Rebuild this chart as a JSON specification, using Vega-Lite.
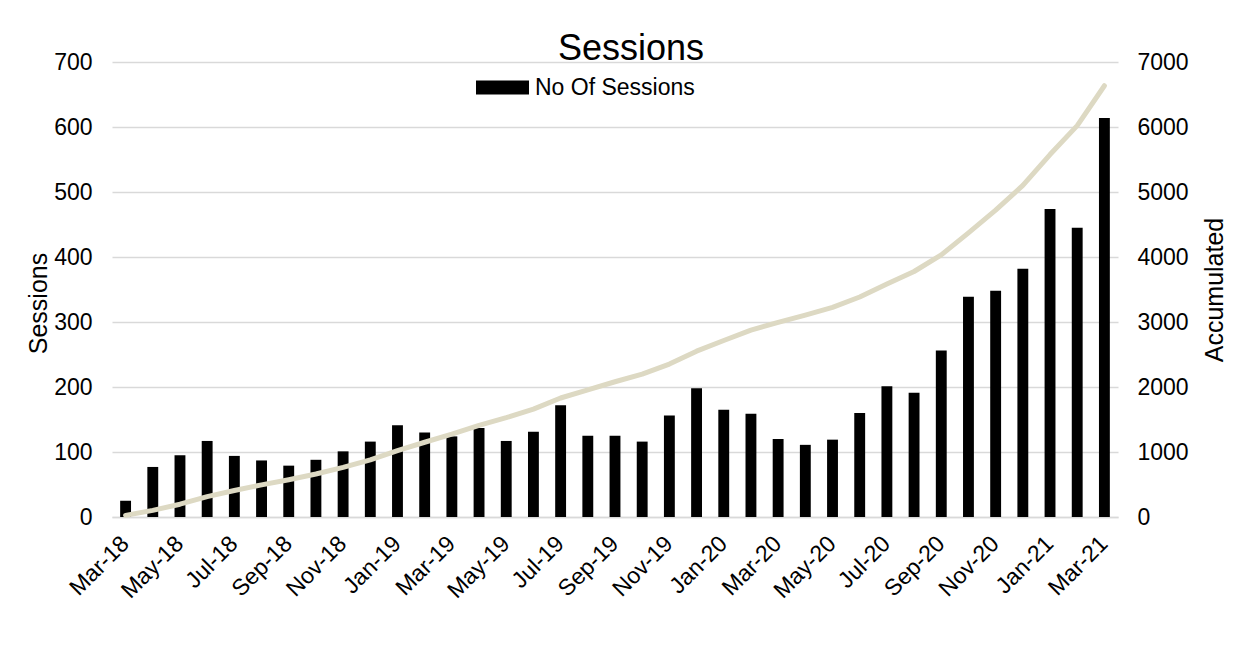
{
  "$schema": "https://vega.github.io/schema/vega-lite/v6.json",
  "width": 1006,
  "height": 455,
  "autosize": {"type": "none"},
  "padding": {"left": 112, "top": 62, "right": 134, "bottom": 136},
  "background": "white",
  "title": {"text": "Sessions", "fontSize": 36, "fontWeight": "normal", "font": "Liberation Sans", "color": "black", "anchor": "middle", "dx": 16, "dy": 21, "offset": 4},
  "data": {"values": [
    {"month": "Mar-18", "sessions": 25, "accumulated": 25},
    {"month": "Apr-18", "sessions": 77, "accumulated": 102},
    {"month": "May-18", "sessions": 95, "accumulated": 197},
    {"month": "Jun-18", "sessions": 117, "accumulated": 314},
    {"month": "Jul-18", "sessions": 94, "accumulated": 408},
    {"month": "Aug-18", "sessions": 87, "accumulated": 495},
    {"month": "Sep-18", "sessions": 79, "accumulated": 574},
    {"month": "Oct-18", "sessions": 88, "accumulated": 662},
    {"month": "Nov-18", "sessions": 101, "accumulated": 763},
    {"month": "Dec-18", "sessions": 116, "accumulated": 879},
    {"month": "Jan-19", "sessions": 141, "accumulated": 1020},
    {"month": "Feb-19", "sessions": 130, "accumulated": 1150},
    {"month": "Mar-19", "sessions": 124, "accumulated": 1274},
    {"month": "Apr-19", "sessions": 137, "accumulated": 1411},
    {"month": "May-19", "sessions": 117, "accumulated": 1528},
    {"month": "Jun-19", "sessions": 131, "accumulated": 1659},
    {"month": "Jul-19", "sessions": 172, "accumulated": 1831},
    {"month": "Aug-19", "sessions": 125, "accumulated": 1956},
    {"month": "Sep-19", "sessions": 125, "accumulated": 2081},
    {"month": "Oct-19", "sessions": 116, "accumulated": 2197},
    {"month": "Nov-19", "sessions": 156, "accumulated": 2353},
    {"month": "Dec-19", "sessions": 198, "accumulated": 2551},
    {"month": "Jan-20", "sessions": 165, "accumulated": 2716},
    {"month": "Feb-20", "sessions": 159, "accumulated": 2875},
    {"month": "Mar-20", "sessions": 120, "accumulated": 2995},
    {"month": "Apr-20", "sessions": 111, "accumulated": 3106},
    {"month": "May-20", "sessions": 119, "accumulated": 3225},
    {"month": "Jun-20", "sessions": 160, "accumulated": 3385},
    {"month": "Jul-20", "sessions": 201, "accumulated": 3586},
    {"month": "Aug-20", "sessions": 191, "accumulated": 3777},
    {"month": "Sep-20", "sessions": 256, "accumulated": 4033},
    {"month": "Oct-20", "sessions": 339, "accumulated": 4372},
    {"month": "Nov-20", "sessions": 348, "accumulated": 4720},
    {"month": "Dec-20", "sessions": 382, "accumulated": 5102},
    {"month": "Jan-21", "sessions": 474, "accumulated": 5576},
    {"month": "Feb-21", "sessions": 445, "accumulated": 6021},
    {"month": "Mar-21", "sessions": 614, "accumulated": 6635}
  ]},
  "encoding": {
    "x": {
      "field": "month", "type": "ordinal", "sort": null,
      "scale": {"paddingInner": 0.6, "paddingOuter": 0.3},
      "axis": {
        "title": null,
        "values": ["Mar-18","May-18","Jul-18","Sep-18","Nov-18","Jan-19","Mar-19","May-19","Jul-19","Sep-19","Nov-19","Jan-20","Mar-20","May-20","Jul-20","Sep-20","Nov-20","Jan-21","Mar-21"],
        "labelAngle": -45, "labelFontSize": 23, "labelFont": "Liberation Sans", "labelColor": "black",
        "ticks": false, "domainColor": "#d9d9d9", "domainWidth": 1.5, "labelPadding": 15, "labelOffset": -8, "grid": false
      }
    }
  },
  "layer": [
    {
      "mark": {"type": "bar", "color": "black"},
      "encoding": {
        "y": {
          "field": "sessions", "type": "quantitative",
          "scale": {"domain": [0, 700], "nice": false},
          "axis": {
            "title": "Sessions", "titleFontSize": 25, "titleFontWeight": "normal", "titleFont": "Liberation Sans", "titleColor": "black",
            "titlePadding": 2, "titleY": 241,
            "values": [0,100,200,300,400,500,600,700],
            "labelFontSize": 23, "labelFont": "Liberation Sans", "labelColor": "black", "labelPadding": 20,
            "ticks": false, "domain": false, "grid": true, "gridColor": "#d9d9d9", "gridWidth": 1.5
          }
        },
        "color": {
          "datum": "No Of Sessions",
          "scale": {"range": ["black"]},
          "legend": {
            "title": null, "orient": "none", "legendX": 364, "legendY": -1,
            "symbolType": "M-1,-0.264H1V0.264H-1Z", "symbolSize": 2809,
            "symbolStrokeWidth": 0,
            "labelFontSize": 23, "labelFont": "Liberation Sans", "labelColor": "black", "labelOffset": 6, "padding": 0
          }
        }
      }
    },
    {
      "mark": {"type": "line", "color": "#ddd9c3", "strokeWidth": 5, "strokeCap": "round", "strokeJoin": "round"},
      "encoding": {
        "y": {
          "field": "accumulated", "type": "quantitative",
          "scale": {"domain": [0, 7000], "nice": false},
          "axis": {
            "orient": "right", "title": "Accumulated", "titleFontSize": 25, "titleFontWeight": "normal", "titleFont": "Liberation Sans", "titleColor": "black",
            "titleAngle": 270, "titleBaseline": "top", "titlePadding": 14,
            "values": [0,1000,2000,3000,4000,5000,6000,7000], "format": "d",
            "labelFontSize": 23, "labelFont": "Liberation Sans", "labelColor": "black", "labelPadding": 19,
            "ticks": false, "domain": false, "grid": false
          }
        }
      }
    }
  ],
  "resolve": {"scale": {"y": "independent"}},
  "config": {"view": {"stroke": null}}
}
